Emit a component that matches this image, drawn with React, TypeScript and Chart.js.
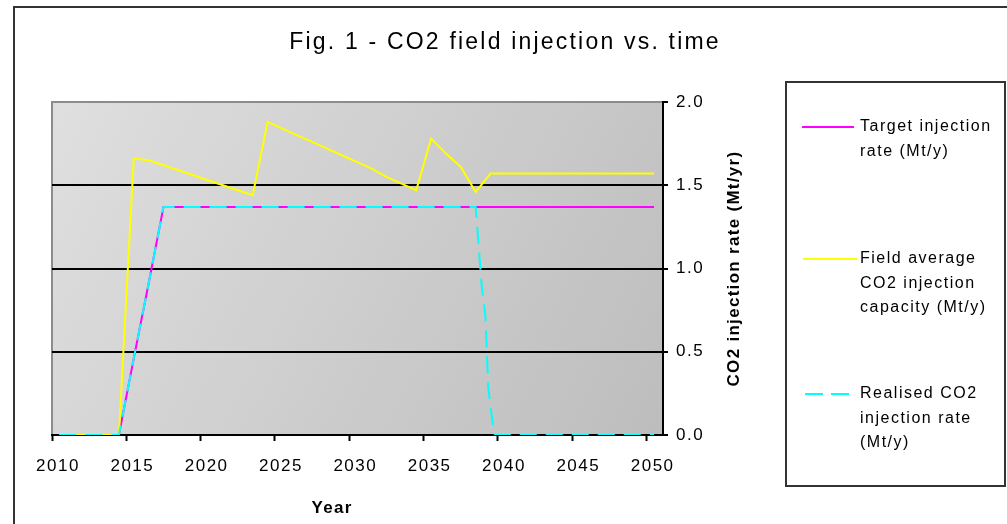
import React, { useEffect, useRef } from 'react';
import { Chart, registerables } from 'chart.js';

Chart.register(...registerables);

// ---- Data ----
const years = [
  2010, 2011, 2012, 2013, 2014, 2015, 2016, 2017, 2018, 2019,
  2020, 2021, 2022, 2023, 2024, 2025, 2026, 2027, 2028, 2029,
  2030, 2031, 2032, 2033, 2034, 2035, 2036, 2037, 2038, 2039,
  2040, 2041, 2042, 2043, 2044, 2045, 2046, 2047, 2048, 2049, 2050,
];

const targetRate = [
  0, 0, 0, 0, 0, 0.46, 0.91, 1.37, 1.37, 1.37,
  1.37, 1.37, 1.37, 1.37, 1.37, 1.37, 1.37, 1.37, 1.37, 1.37,
  1.37, 1.37, 1.37, 1.37, 1.37, 1.37, 1.37, 1.37, 1.37, 1.37,
  1.37, 1.37, 1.37, 1.37, 1.37, 1.37, 1.37, 1.37, 1.37, 1.37, 1.37,
];

const fieldCapacity = [
  0, 0, 0, 0, 0, 1.66, 1.65, 1.62, 1.59, 1.56,
  1.53, 1.50, 1.47, 1.44, 1.88, 1.84, 1.80, 1.76, 1.72, 1.68,
  1.64, 1.60, 1.55, 1.51, 1.47, 1.78, 1.69, 1.61, 1.46, 1.57,
  1.57, 1.57, 1.57, 1.57, 1.57, 1.57, 1.57, 1.57, 1.57, 1.57, 1.57,
];

const realisedYears = [
  2010, 2011, 2012, 2013, 2014, 2015, 2016, 2017, 2018, 2019,
  2020, 2021, 2022, 2023, 2024, 2025, 2026, 2027, 2028, 2029,
  2030, 2031, 2032, 2033, 2034, 2035, 2036, 2037, 2038,
  2038.4, 2038.65, 2038.85, 2039.2, 2039.3,
  2040, 2041, 2042, 2043, 2044, 2045, 2046, 2047, 2048, 2049, 2050,
];

const realisedRate = [
  0, 0, 0, 0, 0, 0.46, 0.91, 1.37, 1.37, 1.37,
  1.37, 1.37, 1.37, 1.37, 1.37, 1.37, 1.37, 1.37, 1.37, 1.37,
  1.37, 1.37, 1.37, 1.37, 1.37, 1.37, 1.37, 1.37, 1.37,
  0.9, 0.72, 0.28, 0.03, 0,
  0, 0, 0, 0, 0, 0, 0, 0, 0, 0, 0,
];

const xTickBoundaries = [2009.5, 2014.5, 2019.5, 2024.5, 2029.5, 2034.5, 2039.5, 2044.5, 2049.5];
const yTicks = [0, 0.5, 1, 1.5, 2];

const chartTitle = 'Fig. 1 - CO2 field injection vs. time';
const xTitle = 'Year';
const yTitle = 'CO2 injection rate (Mt/yr)';

const seriesColors = ['#ff00ff', '#ffff00', '#00ffff'];
const legendLines = [
  ['Target injection', 'rate (Mt/y)'],
  ['Field average', 'CO2 injection', 'capacity (Mt/y)'],
  ['Realised CO2', 'injection rate', '(Mt/y)'],
];

const FONT = '"Liberation Sans", Arial, sans-serif';

const decorPlugin = {
  id: 'decor',
  beforeDraw(chart: any) {
    const { ctx, chartArea: a } = chart;
    ctx.save();
    ctx.fillStyle = '#ffffff';
    ctx.fillRect(0, 0, chart.width, chart.height);
    // outer chart frame
    ctx.strokeStyle = '#333333';
    ctx.lineWidth = 2;
    ctx.strokeRect(14, 7, chart.width + 20, chart.height + 20);
    // plot area gradient
    const g = ctx.createLinearGradient(a.left, a.top, a.right, a.bottom);
    g.addColorStop(0, '#dfdfdf');
    g.addColorStop(1, '#bdbdbd');
    ctx.fillStyle = g;
    ctx.fillRect(a.left, a.top, a.right - a.left, a.bottom - a.top);
    ctx.strokeStyle = '#8c8c8c';
    ctx.lineWidth = 2;
    ctx.strokeRect(a.left, a.top, a.right - a.left, a.bottom - a.top);
    ctx.restore();
    ctx.letterSpacing = '1.5px';
  },
  afterDraw(chart: any) {
    const { ctx, chartArea: a } = chart;
    ctx.save();
    ctx.fillStyle = '#000';
    ctx.textBaseline = 'middle';

    // chart title
    ctx.font = `23px ${FONT}`;
    ctx.letterSpacing = '2.2px';
    ctx.textAlign = 'center';
    ctx.fillText(chartTitle, 505, 43);

    // x title
    ctx.font = `bold 17px ${FONT}`;
    ctx.letterSpacing = '1.3px';
    ctx.fillText(xTitle, 332, 508);

    // y title (reads bottom to top)
    ctx.save();
    ctx.translate(734, (a.top + a.bottom) / 2);
    ctx.rotate(-Math.PI / 2);
    ctx.fillText(yTitle, 0, 0);
    ctx.restore();

    // legend box
    ctx.strokeStyle = '#333333';
    ctx.lineWidth = 2;
    ctx.strokeRect(786, 82, 219, 404);

    const itemY = [127, 259, 394];
    const markerX = [[802, 854], [803, 857], [805, 850]];
    ctx.font = `16px ${FONT}`;
    ctx.letterSpacing = '1.5px';
    ctx.textAlign = 'left';
    legendLines.forEach((lines, i) => {
      ctx.save();
      ctx.strokeStyle = seriesColors[i];
      ctx.lineWidth = 2;
      if (i === 2) ctx.setLineDash([18, 8]);
      ctx.beginPath();
      ctx.moveTo(markerX[i][0], itemY[i]);
      ctx.lineTo(markerX[i][1], itemY[i]);
      ctx.stroke();
      ctx.restore();
      lines.forEach((t, j) => {
        ctx.fillText(t, 860, itemY[i] + j * 24.5);
      });
    });
    ctx.restore();
  },
};

export default function App() {
  const ref = useRef<HTMLCanvasElement>(null);

  useEffect(() => {
    const canvas = ref.current;
    if (!canvas) return;
    const lineBase = { borderWidth: 2, pointRadius: 0, tension: 0, fill: false };
    const chart = new Chart(canvas, {
      type: 'line',
      data: {
        datasets: [
          {
            ...lineBase,
            label: 'Target injection rate (Mt/y)',
            data: years.map((x, i) => ({ x, y: targetRate[i] })),
            borderColor: seriesColors[0],
            order: 3,
          },
          {
            ...lineBase,
            label: 'Field average CO2 injection capacity (Mt/y)',
            data: years.map((x, i) => ({ x, y: fieldCapacity[i] })),
            borderColor: seriesColors[1],
            order: 2,
          },
          {
            ...lineBase,
            label: 'Realised CO2 injection rate (Mt/y)',
            data: realisedYears.map((x, i) => ({ x, y: realisedRate[i] })),
            borderColor: seriesColors[2],
            borderDash: [17, 9],
            order: 1,
          },
        ],
      },
      options: {
        animation: false,
        responsive: false,
        maintainAspectRatio: false,
        layout: { padding: { left: 52, top: 102, right: 1007 - 663 - 50, bottom: 524 - 435 - 40 } },
        plugins: {
          legend: { display: false },
          title: { display: false },
          tooltip: { enabled: false },
        },
        scales: {
          x: {
            type: 'linear',
            min: 2009.5,
            max: 2050.6,
            afterBuildTicks: (s: any) => {
              s.ticks = xTickBoundaries.map((v) => ({ value: v }));
            },
            afterFit: (s: any) => {
              s.height = 40;
              s.paddingLeft = 0;
              s.paddingRight = 0;
            },
            ticks: {
              callback: (v: any) => String(Number(v) + 0.5),
              labelOffset: 6,
              padding: 15,
              color: '#000',
              autoSkip: false,
              maxRotation: 0,
              font: { family: FONT, size: 17 },
            },
            grid: {
              drawOnChartArea: false,
              tickLength: 6,
              color: '#000',
              tickColor: '#000',
              tickWidth: 2,
            },
            border: { color: '#000', width: 2 },
          },
          y: {
            position: 'right',
            min: 0,
            max: 2,
            afterBuildTicks: (s: any) => {
              s.ticks = yTicks.map((v) => ({ value: v }));
            },
            afterFit: (s: any) => {
              s.width = 50;
              s.paddingTop = 0;
              s.paddingBottom = 0;
            },
            ticks: {
              callback: (v: any) => Number(v).toFixed(1),
              padding: 8,
              color: '#000',
              font: { family: FONT, size: 17 },
            },
            grid: {
              color: (c: any) =>
                c.tick && (c.tick.value === 0 || c.tick.value === 2) ? 'rgba(0,0,0,0)' : '#000',
              lineWidth: 2,
              tickLength: 5,
              tickColor: '#000',
              tickWidth: 2,
            },
            border: { color: '#000', width: 2 },
          },
        },
      },
      plugins: [decorPlugin],
    });
    return () => chart.destroy();
  }, []);

  return (
    <div style={{ position: 'fixed', left: 0, top: 0, width: 1007, height: 524 }}>
      <canvas ref={ref} width={1007} height={524} style={{ display: 'block', width: 1007, height: 524 }} />
    </div>
  );
}
